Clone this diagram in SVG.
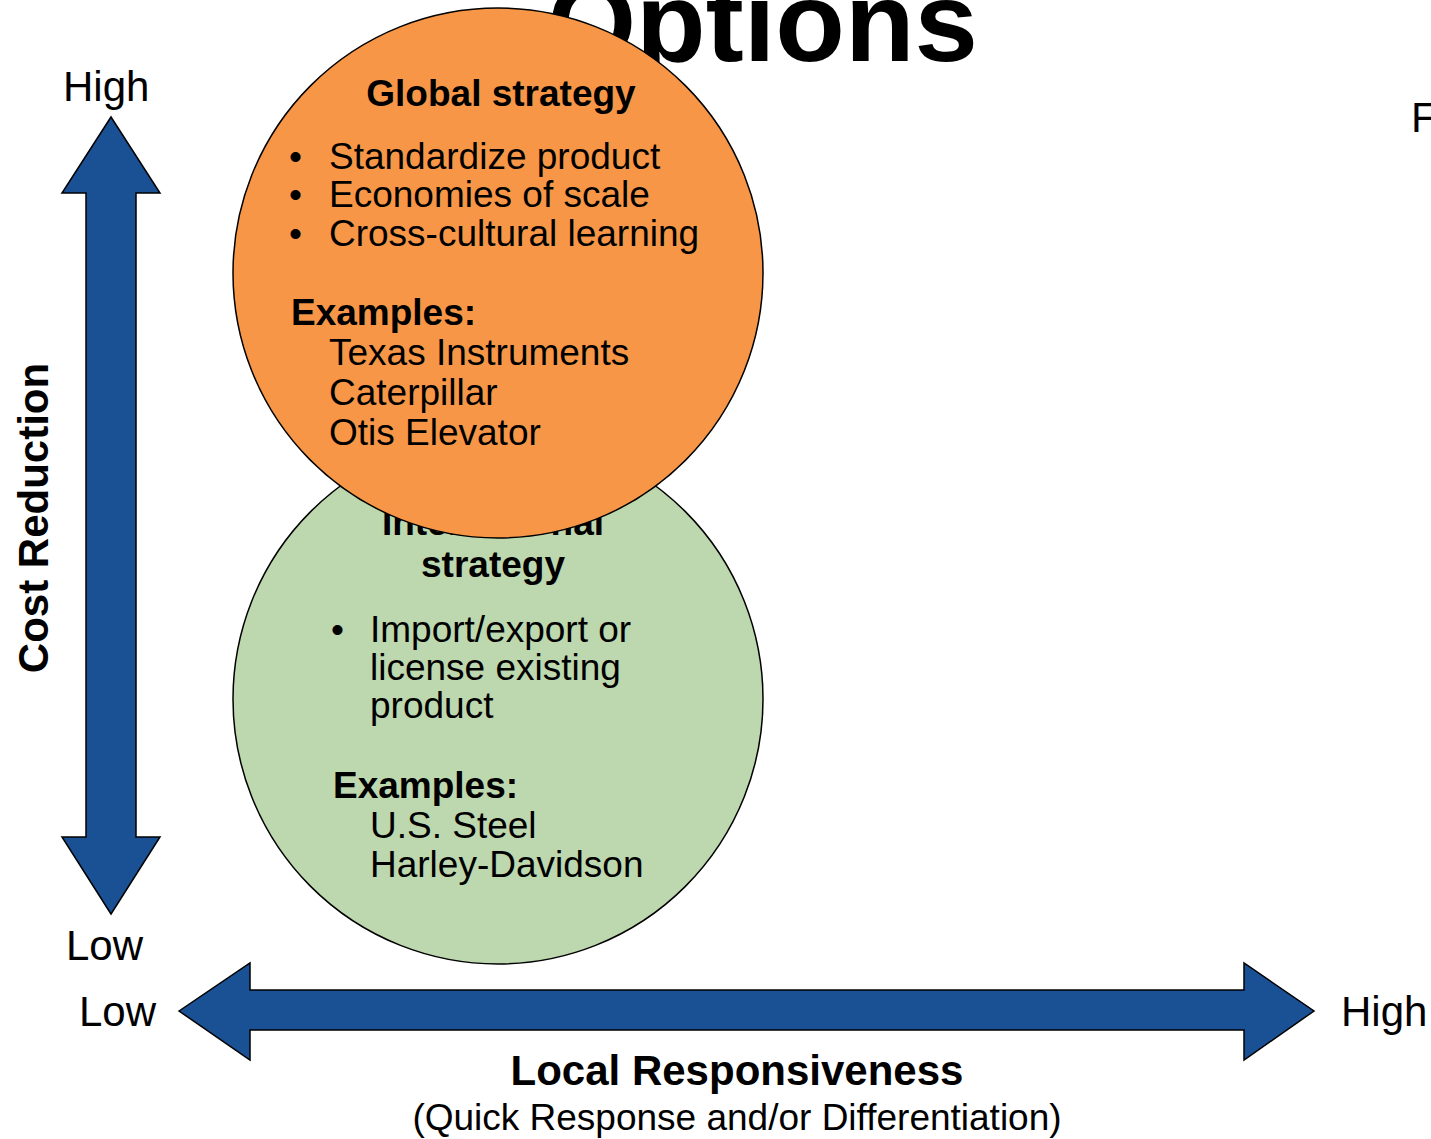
<svg xmlns="http://www.w3.org/2000/svg" width="1431" height="1139" viewBox="0 0 1431 1139">
<style>
text{font-family:"Liberation Sans",Arial,sans-serif;fill:#000}
.t{font-size:37px}
.b{font-size:37px;font-weight:bold}
.ax{font-size:42px}
.axb{font-size:42px;font-weight:bold}
.arrow{fill:#1a5094;stroke:#000;stroke-width:1.5}
.c{stroke:#000;stroke-width:1.5}
</style>
<rect width="1431" height="1139" fill="#fff"/>
<text x="978" y="61" text-anchor="end" style="font-size:114px;font-weight:bold">Options</text>
<text class="ax" x="1411" y="132">F</text>
<g id="connectors">
<path class="arrow" d="M111,117 L160,193 L136,193 L136,837 L160,837 L111,914 L62,837 L86,837 L86,193 L62,193 Z"/>
<path class="arrow" d="M179,1011 L250,963 L250,990 L1244,990 L1244,963 L1314,1011 L1244,1060 L1244,1030 L250,1030 L250,1060 Z"/>
</g>
<g id="axis-labels">
<text class="ax" x="63" y="101">High</text>
<text class="ax" x="66" y="960">Low</text>
<text class="ax" x="79" y="1026">Low</text>
<text class="ax" x="1341" y="1026">High</text>
<text class="axb" transform="translate(48,518) rotate(-90)" text-anchor="middle">Cost Reduction</text>
<text class="axb" x="737" y="1085" text-anchor="middle">Local Responsiveness</text>
<text class="t" x="737" y="1130" text-anchor="middle">(Quick Response and/or Differentiation)</text>
</g>
<g id="international">
<circle class="c" cx="498" cy="699" r="265" fill="#bdd7ae"/>
<text class="b" x="493" y="535" text-anchor="middle">International</text>
<text class="b" x="493" y="577" text-anchor="middle">strategy</text>
<text class="t" x="331" y="642">•</text>
<text class="t" x="370" y="642">Import/export or</text>
<text class="t" x="370" y="680">license existing</text>
<text class="t" x="370" y="718">product</text>
<text class="b" x="333" y="798">Examples:</text>
<text class="t" x="370" y="838">U.S. Steel</text>
<text class="t" x="370" y="877">Harley-Davidson</text>
</g>
<g id="global">
<circle class="c" cx="498" cy="273" r="265" fill="#f79646"/>
<text class="b" x="501" y="106" text-anchor="middle">Global strategy</text>
<text class="t" x="289" y="169">•</text>
<text class="t" x="329" y="169">Standardize product</text>
<text class="t" x="289" y="207">•</text>
<text class="t" x="329" y="207">Economies of scale</text>
<text class="t" x="289" y="246">•</text>
<text class="t" x="329" y="246">Cross-cultural learning</text>
<text class="b" x="291" y="325">Examples:</text>
<text class="t" x="329" y="365">Texas Instruments</text>
<text class="t" x="329" y="405">Caterpillar</text>
<text class="t" x="329" y="445">Otis Elevator</text>
</g>
</svg>
